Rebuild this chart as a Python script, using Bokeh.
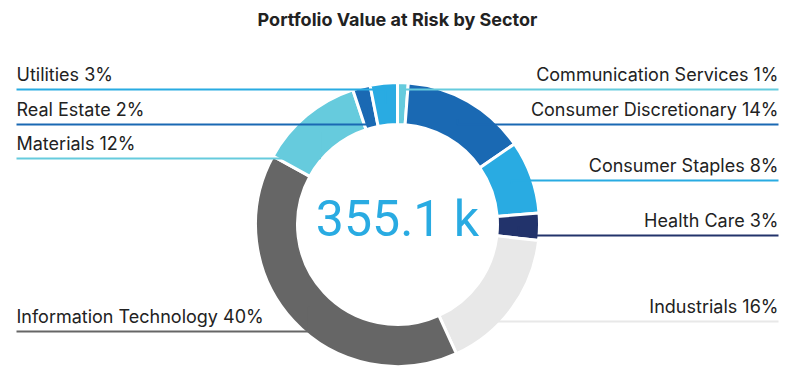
import math
from bokeh.plotting import figure
from bokeh.models import Range1d, ColumnDataSource
from bokeh.core.properties import value
from bokeh.embed import file_html
from bokeh.resources import INLINE

# ---- data ----
sectors = ["Communication Services", "Consumer Discretionary", "Consumer Staples",
           "Health Care", "Industrials", "Information Technology",
           "Materials", "Real Estate", "Utilities"]
var_k = [4.3, 50.4, 29.5, 11.0, 58.2, 141.3, 42.3, 7.1, 11.0]
palette = ["#66CBDD", "#1A69B3", "#29ABE2", "#22336B", "#E8E8E8", "#666666"]
title_text = "Portfolio Value at Risk by Sector"

# ---- layout (screen pixels) ----
label_line_y = [89, 124, 180, 235, 321, 331, 158, 124, 89]
W, H = 782, 378
CX, CY = 397, 224
R_OUT, R_IN, R_ANCHOR = 142, 100, 121
LEFT_X, RIGHT_X = 16, 778


def dx(X):
    return X


def dy(Y):
    return H - Y


p = figure(width=W, height=H, x_range=Range1d(0, W), y_range=Range1d(0, H),
           output_backend="svg", toolbar_location=None, min_border=0)
p.axis.visible = False
p.grid.visible = False
p.outline_line_color = None

total = sum(var_k)
starts, ends, colors, mids = [], [], [], []
cum = 0.0
for i, v in enumerate(var_k):
    f0 = cum / total
    cum += v
    f1 = cum / total
    starts.append(math.pi / 2 - f0 * 2 * math.pi)
    ends.append(math.pi / 2 - f1 * 2 * math.pi)
    mids.append((f0 + f1) / 2 * 2 * math.pi)
    colors.append(palette[i % len(palette)])

src = ColumnDataSource(dict(start=starts, end=ends, color=colors))
p.annular_wedge(x=dx(CX), y=dy(CY), inner_radius=R_IN, outer_radius=R_OUT,
                start_angle="start", end_angle="end", direction="clock",
                fill_color="color", line_color="white", line_width=3, source=src)

# leader lines + labels
lt_x, lt_y, lt_text, lt_align = [], [], [], []
for i, name in enumerate(sectors):
    phi = mids[i]
    ax = CX + R_ANCHOR * math.sin(phi)
    ay = CY - R_ANCHOR * math.cos(phi)
    ly = label_line_y[i]
    left = phi > math.pi
    ex = LEFT_X if left else RIGHT_X
    p.line(x=[dx(ex), dx(ax), dx(ax)], y=[dy(ly), dy(ly), dy(ay)],
           line_color=colors[i], line_width=2)
    pct = round(var_k[i] / total * 100)
    lt_x.append(dx(ex))
    lt_y.append(dy(ly - 15))
    lt_text.append(f"{name} {pct}%")
    lt_align.append("left" if left else "right")

lsrc = ColumnDataSource(dict(x=lt_x, y=lt_y, text=lt_text, align=lt_align))
p.text(x="x", y="y", text="text", text_align="align", text_baseline="middle",
       text_font=value("Inter"), text_font_size="18px", text_color="#222222",
       source=lsrc)

# center total
p.text(x=[dx(CX)], y=[dy(CY - 6)], text=[f"{total:.1f} k"], text_align="center",
       text_baseline="middle", text_font=value("Roboto"), text_font_size="50px",
       text_color="#29ABE2")

# title
p.text(x=[dx(CX)], y=[dy(19)], text=[title_text], text_align="center",
       text_baseline="middle", text_font=value("Inter"), text_font_style="bold",
       text_font_size="18px", text_color="#222222")

open("out.html", "w").write(file_html(p, INLINE))
